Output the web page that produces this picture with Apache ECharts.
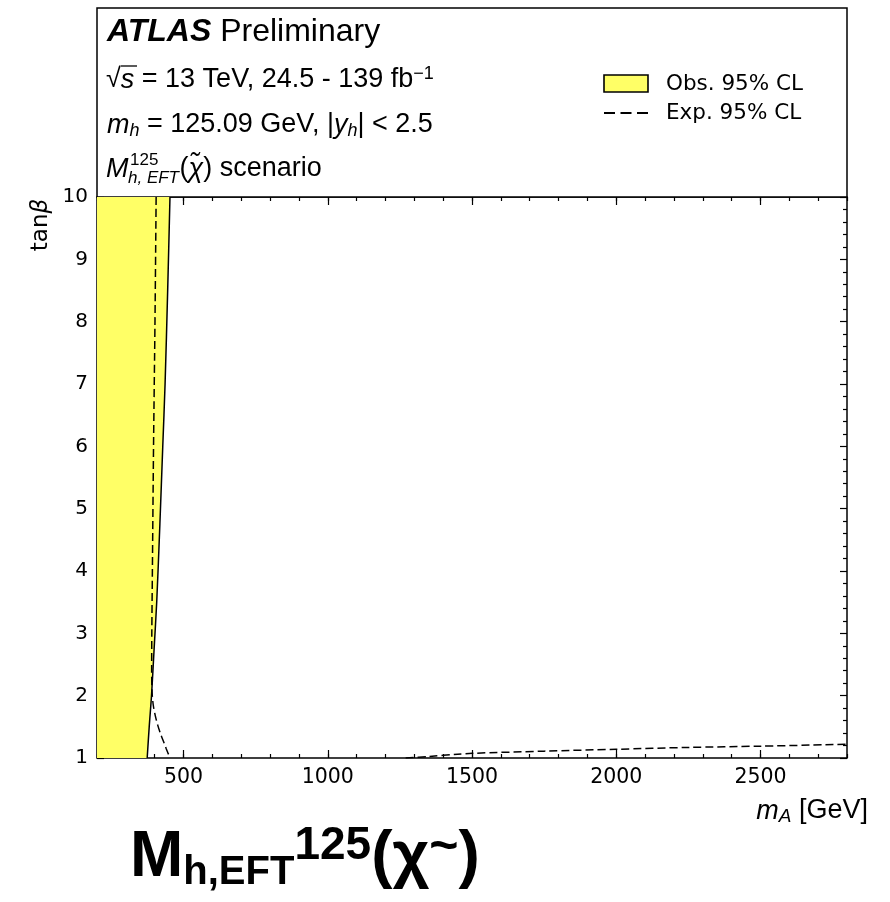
<!DOCTYPE html>
<html>
<head>
<meta charset="utf-8">
<style>
  html, body { margin: 0; padding: 0; background: #fff; }
  #chart { width: 890px; height: 902px; }
</style>
<script src="https://cdn.jsdelivr.net/npm/echarts@6/dist/echarts.min.js"></script>
</head>
<body>
<div id="chart"></div>
<script>
// Axis ranges and tick labels
const xRange = [200, 2800];
const yRange = [1, 10];
const xMajorTicks = [500, 1000, 1500, 2000, 2500];

// Observed 95% CL exclusion boundary (m_A [GeV], tanβ); excluded to the left
const obsBoundary = [[374, 1], [381, 1.5], [389, 2], [398, 2.75], [407, 3.5], [418, 4.75], [428, 6], [436, 7], [445, 8.5], [453, 10]];

// Expected 95% CL contour, low-m_A branch
const expLow = [[405, 10], [401, 8], [396, 6], [392, 4], [390, 3], [389.5, 2.4], [391, 2.05], [395, 1.85], [402, 1.68], [411, 1.52], [421, 1.38], [431, 1.26], [440, 1.15], [447, 1.07], [453, 1]];

// Expected 95% CL contour, high-m_A branch
const expHigh = [[1270, 1], [1350, 1.025], [1450, 1.06], [1500, 1.075], [1750, 1.11], [2000, 1.14], [2250, 1.17], [2500, 1.19], [2800, 1.22]];

// Closed region for the observed exclusion fill
const obsRegion = [[xRange[0], yRange[0]]].concat(obsBoundary, [[xRange[0], yRange[1]]]);

const chart = echarts.init(document.getElementById('chart'), null, { renderer: 'canvas' });

const DEJAVU = 'DejaVu Sans';
const HELV = '"Liberation Sans", Arial, Helvetica, sans-serif';
const FILL = '#ffff66';
const TXT = 27;   // header body text size

const tickCommon = { inside: true, lineStyle: { color: '#000', width: 1.2 } };
const plainNumber = function (v) { return String(v); };

const option = {
  animation: false,
  backgroundColor: '#fff',
  grid: {
    left: 97, right: 43, top: 197, bottom: 144,
    show: true, borderColor: '#000', borderWidth: 1.5, backgroundColor: 'transparent',
    containLabel: false
  },
  xAxis: [
    {
      type: 'value', position: 'bottom', min: xRange[0], max: xRange[1],
      axisLine: { show: false }, splitLine: { show: false },
      axisTick: Object.assign({ length: 8, customValues: xMajorTicks }, tickCommon),
      axisLabel: { customValues: xMajorTicks, formatter: plainNumber, fontFamily: DEJAVU, fontSize: 20.5, color: '#000', margin: 9 }
    },
    {
      type: 'value', position: 'bottom', min: xRange[0], max: xRange[1], interval: 100,
      axisLine: { show: false }, splitLine: { show: false },
      axisTick: Object.assign({ length: 4 }, tickCommon),
      axisLabel: { show: false }
    },
    {
      type: 'value', position: 'top', min: xRange[0], max: xRange[1],
      axisLine: { show: false }, splitLine: { show: false },
      axisTick: Object.assign({ length: 8, customValues: xMajorTicks }, tickCommon),
      axisLabel: { show: false, customValues: xMajorTicks }
    },
    {
      type: 'value', position: 'top', min: xRange[0], max: xRange[1], interval: 100,
      axisLine: { show: false }, splitLine: { show: false },
      axisTick: Object.assign({ length: 4 }, tickCommon),
      axisLabel: { show: false }
    }
  ],
  yAxis: [
    {
      type: 'value', position: 'left', min: yRange[0], max: yRange[1], interval: 1,
      axisLine: { show: false }, splitLine: { show: false },
      axisTick: Object.assign({ length: 7 }, tickCommon),
      minorTick: { show: true, splitNumber: 5, length: 4, lineStyle: { color: '#000', width: 1.2 } },
      minorSplitLine: { show: false },
      axisLabel: { formatter: plainNumber, fontFamily: DEJAVU, fontSize: 20, color: '#000', margin: 9 }
    },
    {
      type: 'value', position: 'right', min: yRange[0], max: yRange[1], interval: 1,
      axisLine: { show: false }, splitLine: { show: false },
      axisTick: Object.assign({ length: 7 }, tickCommon),
      minorTick: { show: true, splitNumber: 5, length: 4, lineStyle: { color: '#000', width: 1.2 } },
      minorSplitLine: { show: false },
      axisLabel: { show: false }
    }
  ],
  series: [
    {
      name: 'Obs. 95% CL',
      type: 'custom',
      xAxisIndex: 0, yAxisIndex: 0,
      coordinateSystem: 'cartesian2d',
      clip: true,
      data: [[obsRegion[0][0], obsRegion[0][1]]],
      z: 1,
      renderItem: function (params, api) {
        const pts = obsRegion.map(function (p) { return api.coord(p); });
        return { type: 'polygon', shape: { points: pts }, style: { fill: FILL, stroke: null } };
      }
    },
    {
      name: 'Obs. boundary',
      type: 'line', xAxisIndex: 0, yAxisIndex: 0,
      data: obsBoundary, showSymbol: false, smooth: 0.3, z: 3,
      lineStyle: { color: '#000', width: 1.5 }
    },
    {
      name: 'Exp. 95% CL',
      type: 'line', xAxisIndex: 0, yAxisIndex: 0,
      data: expLow, showSymbol: false, smooth: 0.3, z: 3,
      lineStyle: { color: '#000', width: 1.5, type: [8, 4] }
    },
    {
      name: 'Exp. 95% CL (high)',
      type: 'line', xAxisIndex: 0, yAxisIndex: 0,
      data: expHigh, showSymbol: false, smooth: 0.3, z: 3,
      lineStyle: { color: '#000', width: 1.5, type: [8, 4] }
    }
  ],
  graphic: [
    // Header panel above the plot
    { type: 'rect', shape: { x: 97, y: 8, width: 750, height: 189 }, style: { fill: '#fff', stroke: '#000', lineWidth: 1.5 }, z: 0 },
    {
      type: 'text', x: 107, y: 32, z: 10,
      style: {
        text: '{b|ATLAS }{r|Preliminary}', verticalAlign: 'middle',
        rich: {
          b: { fontFamily: HELV, fontSize: 32, fontWeight: 'bold', fontStyle: 'italic', fill: '#000' },
          r: { fontFamily: HELV, fontSize: 32, fill: '#000' }
        }
      }
    },
    {
      type: 'text', x: 106, y: 80, z: 10,
      style: {
        text: '{r|√}{i|s}{r| = 13 TeV, 24.5 - 139 fb}{sup|−1}', verticalAlign: 'middle',
        rich: {
          r: { fontFamily: HELV, fontSize: TXT, fill: '#000', lineHeight: 30 },
          i: { fontFamily: HELV, fontSize: TXT, fontStyle: 'italic', fill: '#000', lineHeight: 30 },
          sup: { fontFamily: HELV, fontSize: 18, fill: '#000', verticalAlign: 'top', lineHeight: 16 }
        }
      }
    },
    // Bar of the square root
    { type: 'line', shape: { x1: 121, y1: 66, x2: 137, y2: 66 }, style: { stroke: '#000', lineWidth: 1.3 }, z: 10 },
    {
      type: 'text', x: 107, y: 125, z: 10,
      style: {
        text: '{i|m}{sub|h}{r| = 125.09 GeV, |}{i|y}{sub|h}{r|| < 2.5}', verticalAlign: 'middle',
        rich: {
          r: { fontFamily: HELV, fontSize: TXT, fill: '#000', lineHeight: 30 },
          i: { fontFamily: HELV, fontSize: TXT, fontStyle: 'italic', fill: '#000', lineHeight: 30 },
          sub: { fontFamily: HELV, fontSize: 18, fontStyle: 'italic', fill: '#000', verticalAlign: 'bottom', lineHeight: 16 }
        }
      }
    },
    {
      type: 'text', x: 106, y: 169, z: 10,
      style: {
        text: '{i|M}{stack|}{r|(}{i|χ̃}{r|) scenario}', verticalAlign: 'middle',
        rich: {
          r: { fontFamily: HELV, fontSize: TXT, fill: '#000', lineHeight: 30 },
          i: { fontFamily: HELV, fontSize: TXT, fontStyle: 'italic', fill: '#000', lineHeight: 30 },
          stack: { width: 51 }
        }
      }
    },
    { type: 'text', x: 130, y: 160, z: 10, style: { text: '125', fontFamily: HELV, fontSize: 17, fill: '#000', verticalAlign: 'middle' } },
    { type: 'text', x: 128, y: 178, z: 10, style: { text: 'h, EFT', fontFamily: HELV, fontSize: 17, fontStyle: 'italic', fill: '#000', verticalAlign: 'middle' } },

    // Legend
    { type: 'rect', shape: { x: 604, y: 75, width: 44, height: 17 }, style: { fill: FILL, stroke: '#000', lineWidth: 1.6 }, z: 10 },
    { type: 'text', x: 666, y: 84, z: 10, style: { text: 'Obs. 95% CL', fontFamily: DEJAVU, fontSize: 21.5, fill: '#000', verticalAlign: 'middle' } },
    { type: 'line', shape: { x1: 604, y1: 113, x2: 648, y2: 113 }, style: { stroke: '#000', lineWidth: 2, lineDash: [11, 5.5] }, z: 10 },
    { type: 'text', x: 666, y: 113, z: 10, style: { text: 'Exp. 95% CL', fontFamily: DEJAVU, fontSize: 21.5, fill: '#000', verticalAlign: 'middle' } },

    // Axis titles
    {
      type: 'text', x: 41, y: 225, rotation: Math.PI / 2, z: 10,
      style: {
        text: '{r|tan}{i|β}', align: 'center', verticalAlign: 'middle',
        rich: {
          r: { fontFamily: DEJAVU, fontSize: 23, fill: '#000' },
          i: { fontFamily: DEJAVU, fontSize: 23, fontStyle: 'italic', fill: '#000' }
        }
      }
    },
    {
      type: 'text', x: 868, y: 811, z: 10,
      style: {
        text: '{i|m}{sub|A}{r| [GeV]}', align: 'right', verticalAlign: 'middle',
        rich: {
          r: { fontFamily: HELV, fontSize: 27, fill: '#000', lineHeight: 30 },
          i: { fontFamily: HELV, fontSize: 27, fontStyle: 'italic', fill: '#000', lineHeight: 30 },
          sub: { fontFamily: HELV, fontSize: 19, fontStyle: 'italic', fill: '#000', verticalAlign: 'bottom', lineHeight: 16 }
        }
      }
    },

    // Scenario caption below the plot
    {
      type: 'text', x: 130, y: 858, z: 10,
      style: {
        text: '{big|M}{sub|h,EFT}{sup|125}{big|(χ}{tl|~}{big|)}', verticalAlign: 'middle',
        rich: {
          big: { fontFamily: HELV, fontSize: 64, fontWeight: 'bold', fill: '#000', lineHeight: 70 },
          sub: { fontFamily: HELV, fontSize: 40, fontWeight: 'bold', fill: '#000', verticalAlign: 'bottom', lineHeight: 40 },
          sup: { fontFamily: HELV, fontSize: 46, fontWeight: 'bold', fill: '#000', verticalAlign: 'top', lineHeight: 46 },
          tl: { fontFamily: HELV, fontSize: 50, fontWeight: 'bold', fill: '#000', verticalAlign: 'top', lineHeight: 52 }
        }
      }
    }
  ]
};

chart.setOption(option);
</script>
</body>
</html>
